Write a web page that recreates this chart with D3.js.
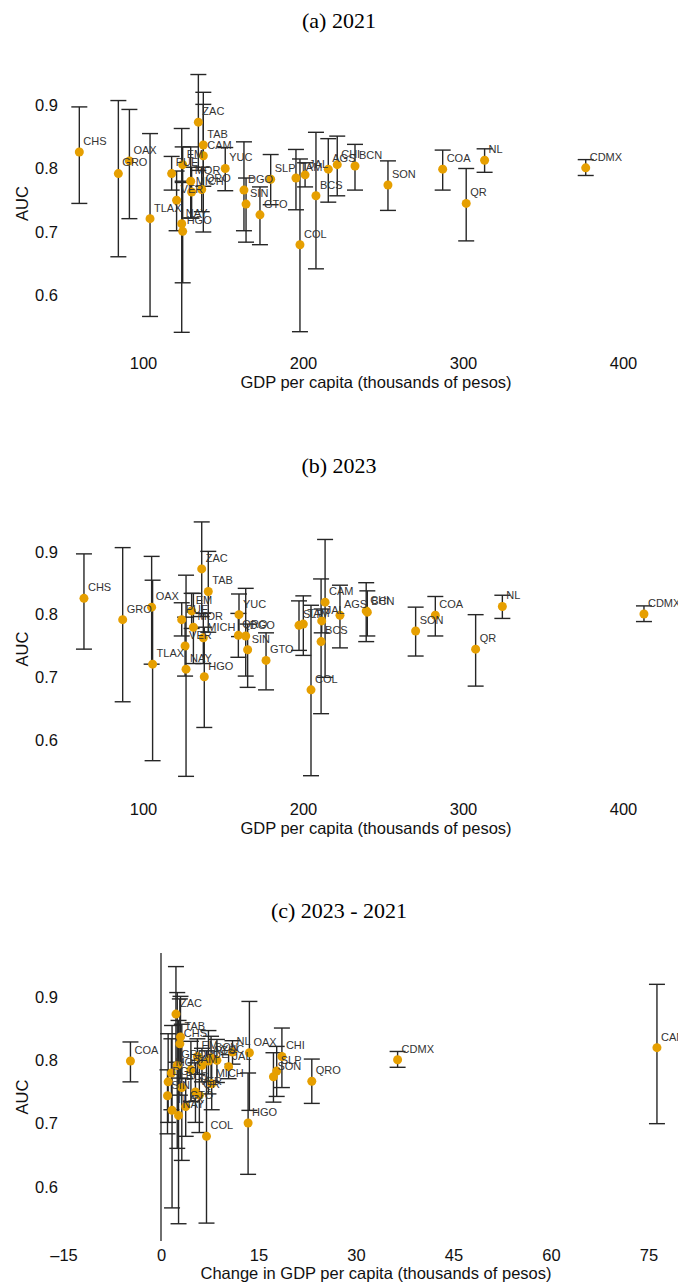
<!DOCTYPE html>
<html>
<head>
<meta charset="utf-8">
<script src="https://cdn.jsdelivr.net/npm/d3@7"></script>
<style>
body{margin:0;background:#fff;}
svg{display:block;}
</style>
</head>
<body>
<div id="chart"></div>
<script>
// state abbreviations, same order in every array
const states = ["AGS","BCN","BCS","CAM","COA","COL","CHS","CHI","CDMX","DGO","GTO","GRO","HGO","JAL","EM","MICH",
                "MOR","NAY","NL","OAX","PUE","QRO","QR","SLP","SIN","SON","TAB","TAM","TLAX","VER","YUC","ZAC"];

const auc     = [0.799,0.804,0.757,0.820,0.799,0.680,0.826,0.806,0.801,0.766,0.727,0.792,0.701,0.790,0.806,0.763,
                 0.780,0.713,0.813,0.812,0.792,0.767,0.745,0.783,0.744,0.774,0.837,0.785,0.721,0.750,0.800,0.873];
const aucLow  = [0.747,0.766,0.642,0.700,0.766,0.543,0.745,0.757,0.789,0.702,0.680,0.661,0.620,0.771,0.778,0.722,
                 0.722,0.542,0.794,0.721,0.766,0.732,0.686,0.743,0.684,0.734,0.772,0.735,0.567,0.702,0.765,0.797];
const aucHigh = [0.847,0.838,0.857,0.920,0.829,0.815,0.897,0.851,0.814,0.842,0.771,0.907,0.780,0.809,0.834,0.802,
                 0.834,0.863,0.831,0.893,0.819,0.802,0.800,0.822,0.785,0.812,0.901,0.830,0.855,0.796,0.833,0.948];

// GDP per capita, thousands of pesos
const gdp2021   = [215.8,232.5,208.1,137.7,287.3,198.1,60.2,221.4,376.7,163.1,173.1,84.6,124.8,201.3,124.8,130.4,
                   129.8,124.2,313.5,91.5,117.9,136.7,302.0,179.8,164.4,253.1,137.7,195.6,104.4,121.0,151.4,134.6];
const gdp2023   = [223.1,240.2,211.3,213.8,282.7,205.0,63.1,239.5,413.1,164.2,176.9,87.3,138.3,211.7,130.4,137.7,
                   131.5,126.9,324.6,105.4,124.2,159.6,307.9,197.5,165.4,270.4,140.8,200.2,106.0,126.3,160.0,136.7];
const gdpChange = [7.3,7.7,3.2,76.3,-4.7,7.0,2.9,18.6,36.4,1.1,3.8,2.5,13.4,10.4,5.6,7.8,
                   1.6,2.7,11.0,13.6,6.3,23.2,5.9,17.8,1.0,17.3,3.0,4.6,1.7,5.3,8.6,2.3];

const gdpTicks = [100,200,300,400];
const changeTicks = [-15,0,15,30,45,60,75];
const aucTicks = [0.6,0.7,0.8,0.9];

const W = 678, H = 1284;
const svg = d3.select('#chart').append('svg')
	.attr('width', W).attr('height', H)
	.attr('font-family', '"Liberation Sans", Arial, Helvetica, sans-serif');

class Panel{
	constructor({title, xs, xTicks, xDomain, xRange, yRange, titleY, tickY, xLabel, xLabelY, plotTop, plotBottom, zeroLine, fmt}){
		this.title = title;
		this.xs = xs;
		this.xTicks = xTicks;
		this.x = d3.scaleLinear().domain(xDomain).range(xRange);
		this.y = d3.scaleLinear().domain([0.6, 0.9]).range(yRange);
		this.titleY = titleY;
		this.tickY = tickY;
		this.xLabel = xLabel;
		this.xLabelY = xLabelY;
		this.plotTop = plotTop;
		this.plotBottom = plotBottom;
		this.zeroLine = zeroLine;
		this.fmt = fmt;
		this.rows = states.map((s, i) => ({name: s, x: xs[i], auc: auc[i], lo: aucLow[i], hi: aucHigh[i]}));
	}

	render(){
		const g = svg.append('g');
		const x = this.x, y = this.y;

		g.append('text')
			.attr('x', W / 2).attr('y', this.titleY)
			.attr('dy', '0.35em')
			.attr('text-anchor', 'middle')
			.attr('font-family', '"Liberation Serif", "Times New Roman", serif')
			.attr('font-size', 22)
			.attr('fill', '#000')
			.text(this.title);

		// axes: labels only, no lines
		const ya = g.append('g').attr('transform', 'translate(58,0)')
			.call(d3.axisLeft(y).tickValues(aucTicks).tickSize(0).tickPadding(0).tickFormat(d3.format('.1f')));
		const xa = g.append('g').attr('transform', `translate(0,${this.tickY})`)
			.call(d3.axisBottom(x).tickValues(this.xTicks).tickSize(0).tickPadding(0).tickFormat(this.fmt));
		[ya, xa].forEach(a => {
			a.select('.domain').remove();
			a.selectAll('text').attr('font-size', 16.5).attr('fill', '#111')
				.attr('font-family', '"Liberation Sans", Arial, sans-serif');
		});
		xa.selectAll('text').attr('dy', '0.35em');

		g.append('text')
			.attr('transform', `translate(22,${(this.plotTop + this.plotBottom) / 2}) rotate(-90)`)
			.attr('text-anchor', 'middle').attr('dy', '0.35em')
			.attr('font-size', 16.5).attr('fill', '#111')
			.text('AUC');
		g.append('text')
			.attr('x', 376)
			.attr('y', this.xLabelY).attr('dy', '0.35em')
			.attr('text-anchor', 'middle')
			.attr('font-size', 16.5).attr('fill', '#111')
			.text(this.xLabel);

		if(this.zeroLine){
			g.append('line')
				.attr('x1', x(0)).attr('x2', x(0))
				.attr('y1', this.plotTop).attr('y2', this.plotBottom)
				.attr('stroke', '#333').attr('stroke-width', 1.4);
		}

		const cap = 8;
		const bars = g.append('g').attr('stroke', '#262626').attr('stroke-width', 1.4).attr('fill', 'none');
		const bar = bars.selectAll('g').data(this.rows).join('g');
		bar.append('line')
			.attr('x1', d => x(d.x)).attr('x2', d => x(d.x))
			.attr('y1', d => y(d.lo)).attr('y2', d => y(d.hi));
		bar.append('line')
			.attr('x1', d => x(d.x) - cap).attr('x2', d => x(d.x) + cap)
			.attr('y1', d => y(d.hi)).attr('y2', d => y(d.hi));
		bar.append('line')
			.attr('x1', d => x(d.x) - cap).attr('x2', d => x(d.x) + cap)
			.attr('y1', d => y(d.lo)).attr('y2', d => y(d.lo));

		g.append('g').selectAll('circle').data(this.rows).join('circle')
			.attr('cx', d => x(d.x)).attr('cy', d => y(d.auc))
			.attr('r', 4.5)
			.attr('fill', '#E69F00');

		g.append('g').selectAll('text').data(this.rows).join('text')
			.attr('x', d => x(d.x) + 4).attr('y', d => y(d.auc) - 11)
			.attr('dy', '0.35em')
			.attr('font-size', 11).attr('fill', '#333')
			.text(d => d.name);
	}
}

const gdpFmt = d3.format('d');
const changeFmt = d => d < 0 ? '\u2013' + Math.abs(d) : String(d);

const panels = [
	new Panel({title: '(a) 2021', xs: gdp2021, xTicks: gdpTicks, xDomain: [100, 400], xRange: [143, 623],
		yRange: [295.5, 105], titleY: 20, tickY: 363, xLabel: 'GDP per capita (thousands of pesos)', xLabelY: 382,
		plotTop: 65, plotBottom: 342, zeroLine: false, fmt: gdpFmt}),
	new Panel({title: '(b) 2023', xs: gdp2023, xTicks: gdpTicks, xDomain: [100, 400], xRange: [143, 623],
		yRange: [740, 552], titleY: 465, tickY: 809, xLabel: 'GDP per capita (thousands of pesos)', xLabelY: 828,
		plotTop: 512, plotBottom: 786, zeroLine: false, fmt: gdpFmt}),
	new Panel({title: '(c) 2023 - 2021', xs: gdpChange, xTicks: changeTicks, xDomain: [-15, 75], xRange: [63.5, 648.5],
		yRange: [1187, 997], titleY: 910, tickY: 1255, xLabel: 'Change in GDP per capita (thousands of pesos)', xLabelY: 1273,
		plotTop: 953, plotBottom: 1241, zeroLine: true, fmt: changeFmt})
];

panels.forEach(p => p.render());
</script>
</body>
</html>
